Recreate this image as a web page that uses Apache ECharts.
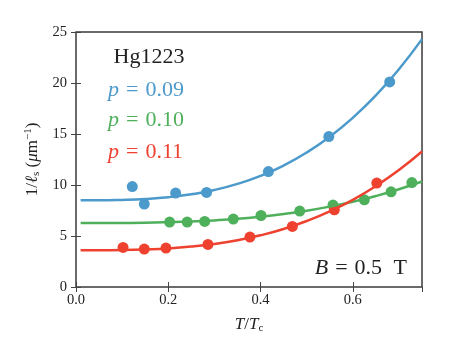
<!DOCTYPE html>
<html lang="en">
<head>
    <meta charset="UTF-8">
    <title>Hg1223 1/ls vs T/Tc</title>
    <script src="https://cdn.jsdelivr.net/npm/echarts@6/dist/echarts.min.js"></script>
</head>
<body style="margin:0">
    <div id="main" style="width: 449px;height:359px;"></div>
    <script>
        // measured points
        const tBlue = [0.122, 0.148, 0.216, 0.283, 0.417, 0.548, 0.680];
        const yBlue = [9.85, 8.13, 9.21, 9.27, 11.32, 14.75, 20.11];
        const tGreen = [0.203, 0.241, 0.279, 0.341, 0.401, 0.485, 0.557, 0.625, 0.683, 0.728];
        const yGreen = [6.37, 6.37, 6.43, 6.66, 7.01, 7.44, 8.03, 8.55, 9.33, 10.24];
        const tRed = [0.102, 0.148, 0.195, 0.286, 0.377, 0.469, 0.560, 0.652];
        const yRed = [3.88, 3.72, 3.82, 4.17, 4.90, 5.94, 7.57, 10.19];

        // fit curves
        const tFit = [0.01, 0.05, 0.10, 0.15, 0.20, 0.25, 0.30, 0.35, 0.40, 0.45, 0.50, 0.55, 0.60, 0.65, 0.70, 0.75];
        const fitBlue = [8.50, 8.50, 8.54, 8.63, 8.80, 9.09, 9.51, 10.11, 10.90, 11.91, 13.18, 14.73, 16.59, 18.78, 21.35, 24.30];
        const fitGreen = [6.27, 6.27, 6.28, 6.30, 6.35, 6.42, 6.53, 6.68, 6.89, 7.15, 7.48, 7.88, 8.35, 8.92, 9.58, 10.34];
        const fitRed = [3.60, 3.60, 3.62, 3.68, 3.78, 3.96, 4.22, 4.58, 5.07, 5.69, 6.47, 7.42, 8.55, 9.90, 11.47, 13.28];

        const labels = ['0.09', '0.10', '0.11'];
        const colors = ['#4b9acb', '#4fb05c', '#ef412f'];

        const zip = (a, b) => a.map((v, i) => [v, b[i]]);
        const serif = '"Liberation Serif", "DejaVu Serif", serif';

        var chart = echarts.init(document.getElementById('main'));

        function fitSeries(data, color) {
            return {
                type: 'line', data: data, showSymbol: false, smooth: true,
                lineStyle: { color: color, width: 2.5 }, silent: true
            };
        }
        function pointSeries(data, color) {
            return {
                type: 'scatter', data: data, symbolSize: 11,
                itemStyle: { color: color, opacity: 1 }
            };
        }

        const tickOpts = { show: true, inside: true, length: 5, lineStyle: { color: '#444', width: 1 } };
        const axisText = { color: '#222', fontFamily: serif, fontSize: 14.5 };

        var option = {
            animation: false,
            grid: { left: 76, right: 27, top: 32, bottom: 72, show: true, borderColor: '#3a3a3a', borderWidth: 1.5, outerBoundsMode: 'none' },
            xAxis: [{
                type: 'value', min: 0, max: 0.75, interval: 0.2,
                axisLine: { show: false }, splitLine: { show: false },
                axisTick: tickOpts,
                axisLabel: Object.assign({ margin: 6, showMaxLabel: false, formatter: v => v.toFixed(1) }, axisText),
                name: '{i|T}/{i|T}{sub|c}', nameLocation: 'middle', nameGap: 28,
                nameTextStyle: {
                    color: '#222', fontFamily: serif, fontSize: 17,
                    rich: {
                        i: { fontStyle: 'italic', fontFamily: serif, fontSize: 17, color: '#222' },
                        sub: { fontSize: 11, fontFamily: serif, color: '#222', verticalAlign: 'bottom', padding: [8, 0, 0, 0] }
                    }
                }
            }, {
                type: 'value', position: 'top', min: 0, max: 0.75, interval: 0.2,
                axisLine: { show: false }, splitLine: { show: false },
                axisTick: tickOpts, axisLabel: { show: false }
            }],
            yAxis: [{
                type: 'value', min: 0, max: 25, interval: 5,
                axisLine: { show: false }, splitLine: { show: false },
                axisTick: tickOpts,
                axisLabel: Object.assign({ margin: 9 }, axisText),
                name: '1/{i|ℓ}{sub|s} ({i|μ}m{sup|−1})', nameLocation: 'middle', nameGap: 33,
                nameTextStyle: {
                    color: '#222', fontFamily: serif, fontSize: 17,
                    rich: {
                        i: { fontStyle: 'italic', fontFamily: serif, fontSize: 17, color: '#222' },
                        sub: { fontSize: 11, fontFamily: serif, color: '#222', verticalAlign: 'bottom', padding: [8, 0, 0, 0] },
                        sup: { fontSize: 11, fontFamily: serif, color: '#222', verticalAlign: 'top', padding: [0, 0, 8, 0] }
                    }
                }
            }, {
                type: 'value', position: 'right', min: 0, max: 25, interval: 5,
                axisLine: { show: false }, splitLine: { show: false },
                axisTick: tickOpts, axisLabel: { show: false }
            }],
            graphic: [
                { type: 'text', x: 149, y: 57, style: { text: 'Hg1223', fill: '#222', font: '22px ' + serif, align: 'center', verticalAlign: 'middle' } }
            ].concat(labels.map((lab, i) => ({
                type: 'text', x: 108, y: [90, 120, 152][i],
                style: {
                    text: '{i|p}{eq|=}' + lab, fill: colors[i], font: '22px ' + serif,
                    align: 'left', verticalAlign: 'middle',
                    rich: {
                        i: { font: 'italic 22px ' + serif, fill: colors[i] },
                        eq: { font: '22px ' + serif, fill: colors[i], padding: [0, 7, 0, 7] }
                    }
                }
            }))).concat([{
                type: 'text', x: 407, y: 268,
                style: {
                    text: '{i|B}{eq|=}0.5{sp| }T', fill: '#222', font: '22px ' + serif,
                    align: 'right', verticalAlign: 'middle',
                    rich: {
                        i: { font: 'italic 22px ' + serif, fill: '#222' },
                        eq: { font: '22px ' + serif, fill: '#222', padding: [0, 7, 0, 7] },
                        sp: { font: '22px ' + serif, padding: [0, 3, 0, 3] }
                    }
                }
            }]),
            series: [
                fitSeries(zip(tFit, fitBlue), colors[0]),
                pointSeries(zip(tBlue, yBlue), colors[0]),
                fitSeries(zip(tFit, fitGreen), colors[1]),
                pointSeries(zip(tGreen, yGreen), colors[1]),
                fitSeries(zip(tFit, fitRed), colors[2]),
                pointSeries(zip(tRed, yRed), colors[2])
            ]
        };

        chart.setOption(option);
    </script>
</body>
</html>
